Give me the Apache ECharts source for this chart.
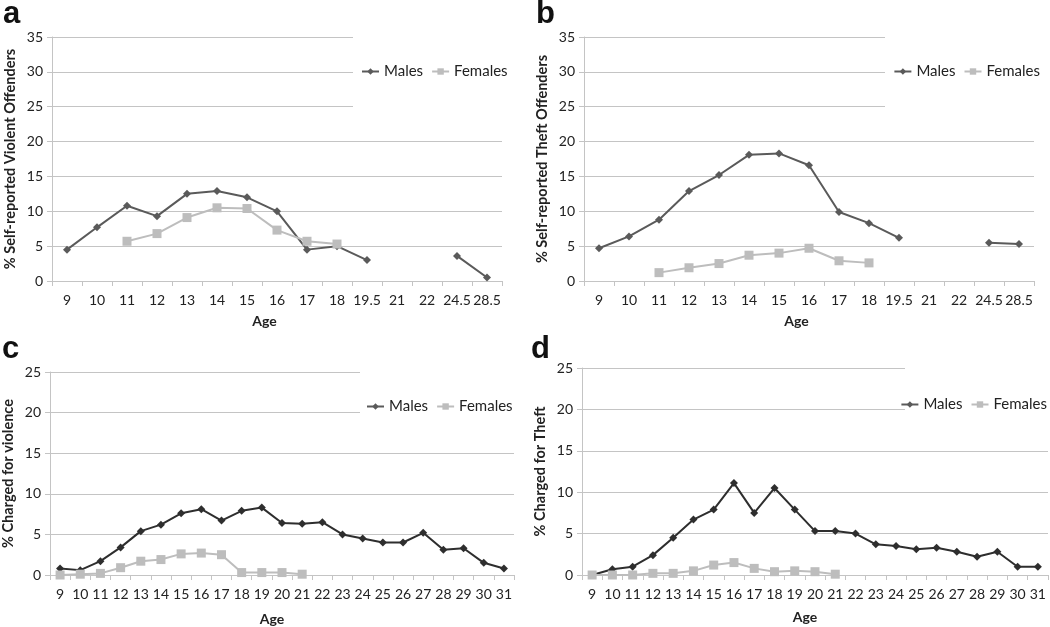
<!DOCTYPE html>
<html><head><meta charset="utf-8">
<script src="https://cdn.jsdelivr.net/npm/echarts@6/dist/echarts.min.js"></script>
<style>html,body{margin:0;padding:0;background:#fff}#c{width:1050px;height:627px}</style>
</head><body><div id="c"></div>
<script>
// ---- data ----
const agesSelf = ['9','10','11','12','13','14','15','16','17','18','19.5','21','22','24.5','28.5'];
const violentMales   = [4.5,7.7,10.8,9.3,12.5,12.9,12.0,10.0,4.5,5.0,3.0,null,null,3.6,0.5];
const violentFemales = [null,null,5.7,6.8,9.1,10.5,10.4,7.3,5.7,5.3,null,null,null,null,null];
const theftMales     = [4.7,6.4,8.8,12.9,15.2,18.1,18.3,16.6,9.9,8.3,6.2,null,null,5.5,5.3];
const theftFemales   = [null,null,1.2,1.9,2.5,3.7,4.0,4.7,2.9,2.6,null,null,null,null,null];

const agesCharged = ['9','10','11','12','13','14','15','16','17','18','19','20','21','22','23','24','25','26','27','28','29','30','31'];
const chViolMales   = [0.8,0.6,1.7,3.4,5.4,6.2,7.6,8.1,6.7,7.9,8.3,6.4,6.3,6.5,5.0,4.5,4.0,4.0,5.2,3.1,3.3,1.5,0.8];
const chViolFemales = [0.0,0.1,0.2,0.9,1.7,1.9,2.6,2.7,2.5,0.3,0.3,0.3,0.1,null,null,null,null,null,null,null,null,null,null];
const chTheftMales   = [0.0,0.7,1.0,2.4,4.5,6.7,7.9,11.1,7.5,10.5,7.9,5.3,5.3,5.0,3.7,3.5,3.1,3.3,2.8,2.2,2.8,1.0,1.0];
const chTheftFemales = [0.0,0.0,0.0,0.2,0.2,0.5,1.2,1.5,0.8,0.4,0.5,0.4,0.1,null,null,null,null,null,null,null,null,null,null];

const yTitles = ['% Self-reported Violent Offenders','% Self-reported Theft Offenders','% Charged for violence','% Charged for Theft'];
const xTitle = 'Age';
const panelLetters = ['a','b','c','d'];

// ---- layout ----
const FONT = 'Lato, "Open Sans", sans-serif';
const gridCol = '#c4c4c4';
const grids = [
  {left:52, top:37, width:450, height:244},
  {left:584, top:37, width:450, height:244},
  {left:49, top:372, width:465, height:205},
  {left:582, top:368, width:466, height:207}
];
const yMax = [35,35,25,25];
const cats = [agesSelf, agesSelf, agesCharged, agesCharged];
const maleCol = ['#5a5a5a','#5a5a5a','#2e2e2e','#2e2e2e'];
const femCol = '#bdbdbd';
const seriesData = [[violentMales,violentFemales],[theftMales,theftFemales],[chViolMales,chViolFemales],[chTheftMales,chTheftFemales]];
const nameGapX = [33,33,37,35];
const titleShift = [25,25,20,20];

const xAxis = [], yAxis = [], series = [], legend = [];
grids.forEach((g,i)=>{
  xAxis.push({type:'category', gridIndex:i, data:cats[i], boundaryGap:true,
    axisLine:{lineStyle:{color:gridCol,width:1}},
    axisTick:{show:true, length:5, lineStyle:{color:gridCol}},
    axisLabel:{interval:0, color:'#222', fontFamily:FONT, fontSize:14, margin:12},
    name:xTitle, nameLocation:'middle', nameGap:nameGapX[i],
    nameTextStyle:{fontFamily:FONT, fontWeight:'bold', fontSize:14, color:'#222', padding:[0,titleShift[i],0,0]}
  });
  yAxis.push({type:'value', gridIndex:i, min:0, max:yMax[i], interval:5,
    axisLine:{show:true, lineStyle:{color:gridCol,width:1}},
    axisTick:{show:true, length:5, lineStyle:{color:gridCol}},
    splitLine:{lineStyle:{color:gridCol,width:1}},
    axisLabel:{color:'#222', fontFamily:FONT, fontSize:14, margin:9},
    name:yTitles[i], nameLocation:'middle', nameGap:34,
    nameTextStyle:{fontFamily:FONT, fontWeight:'bold', fontSize:14.5, color:'#222'}
  });
  series.push({name:'Males', type:'line', xAxisIndex:i, yAxisIndex:i, data:seriesData[i][0],
    symbol:'diamond', symbolSize:8, connectNulls:false,
    lineStyle:{color:maleCol[i], width:2}, itemStyle:{color:maleCol[i]}, z:3});
  series.push({name:'Females', type:'line', xAxisIndex:i, yAxisIndex:i, data:seriesData[i][1],
    symbol:'rect', symbolSize:9, connectNulls:false,
    lineStyle:{color:femCol, width:2}, itemStyle:{color:femCol}, z:4});
});

const legendPos = [{left:361, top:64},{right:10, top:64},{left:366, top:399},{right:3, top:397}];
legendPos.forEach((p)=>{
  legend.push(Object.assign({padding:0, orient:'horizontal',
    itemWidth:17, itemHeight:8, itemGap:8,
    data:[{name:'Males'},{name:'Females'}],
    textStyle:{fontFamily:FONT, fontSize:15, color:'#222'},
    selectedMode:false, z:10
  }, p));
});

// white legend boxes overlapping the top-right of each plot area
const boxes = [[353,25,152,100],[885,25,152,100],[360,360,158,72],[905,356,145,74]];
const graphic = boxes.map(b=>({type:'rect', shape:{x:b[0],y:b[1],width:b[2],height:b[3]}, style:{fill:'#fff'}, z:5, silent:true}));
const letterPos = [[3,-1],[536,-1],[2,334],[531,334]];
panelLetters.forEach((t,i)=>{
  graphic.push({type:'text', left:letterPos[i][0], top:letterPos[i][1], z:6,
    style:{text:t, fontFamily:'"Liberation Sans", Arial, sans-serif', fontWeight:'bold', fontSize:31, fill:'#111'}});
});

const chart = echarts.init(document.getElementById('c'), null, {renderer:'canvas'});
chart.setOption({
  animation:false,
  backgroundColor:'#fff',
  grid: grids.map(g=>Object.assign({containLabel:false}, g)),
  xAxis, yAxis, series, legend, graphic
});
</script></body></html>
